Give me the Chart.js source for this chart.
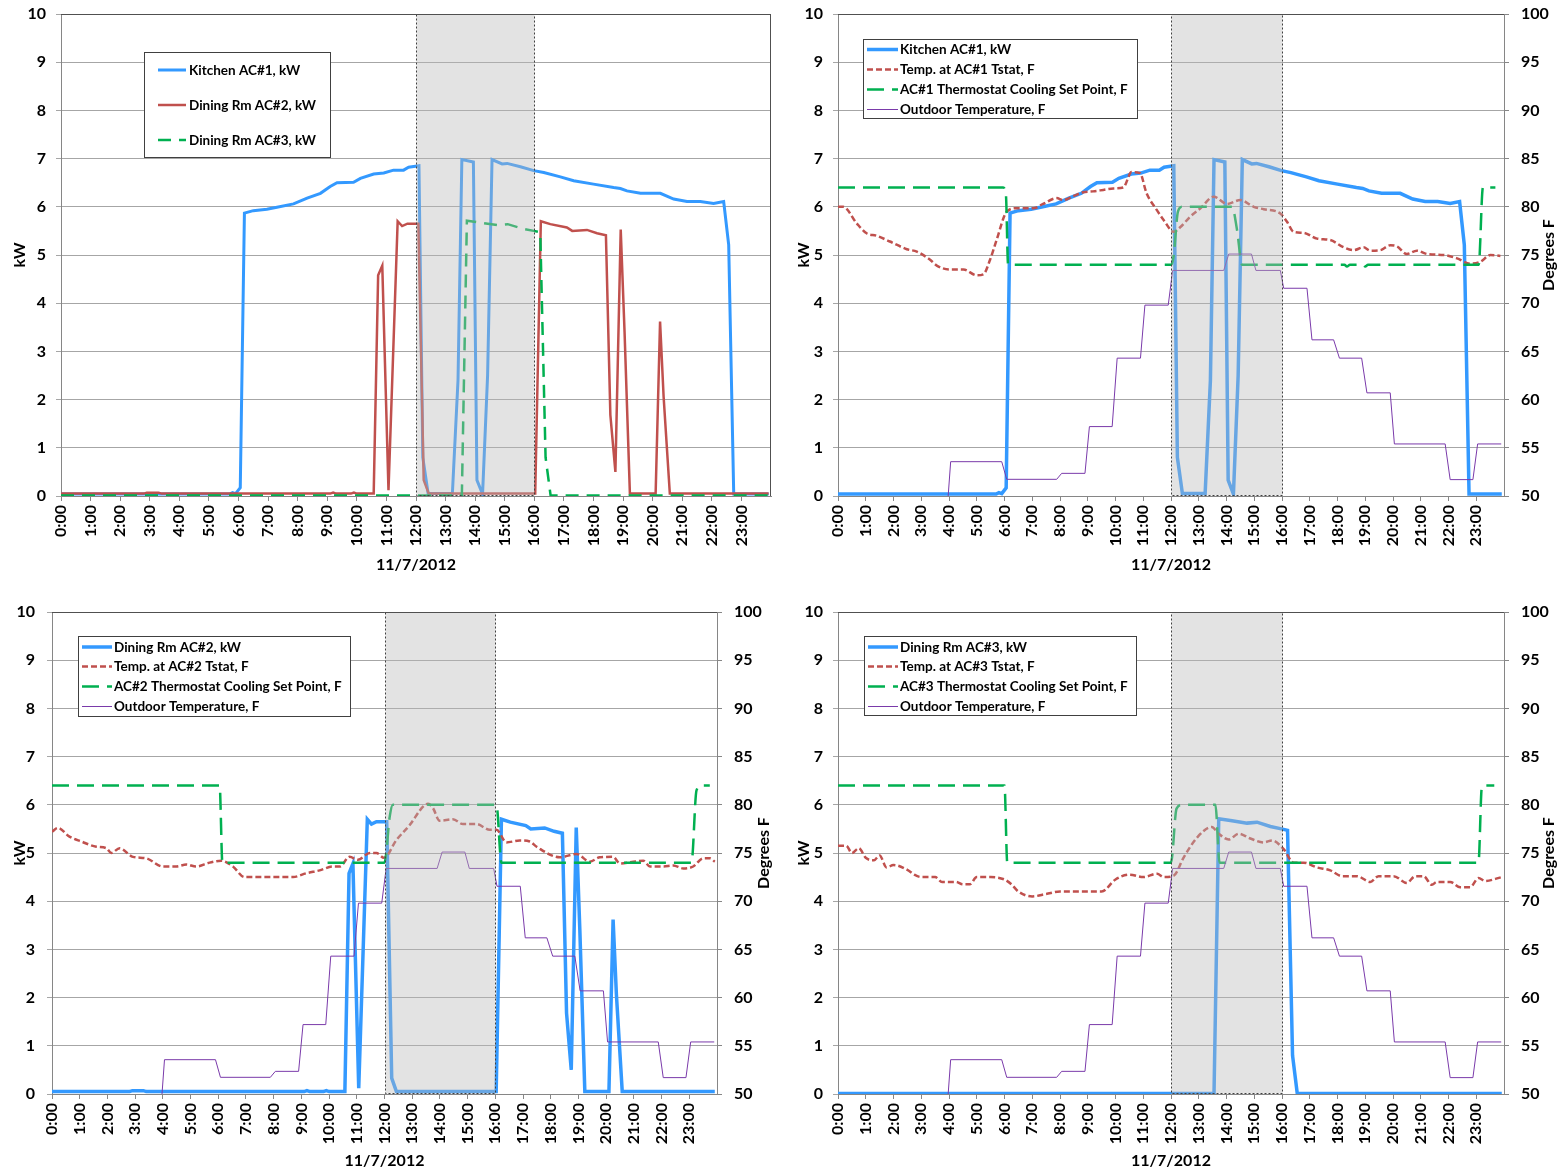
<!DOCTYPE html>
<html>
<head>
<meta charset="utf-8">
<script src="https://cdn.jsdelivr.net/npm/chart.js@4.4.0/dist/chart.umd.min.js"></script>
<style>
  body { margin: 0; background: #fff; }
  #page { position: relative; width: 1557px; height: 1174px; }
  #page canvas { position: absolute; }
</style>
</head>
<body>
<div id="page">
  <canvas id="chart-kw" width="778" height="590" style="left:0;top:0"></canvas>
  <canvas id="chart-ac1" width="779" height="590" style="left:778px;top:0"></canvas>
  <canvas id="chart-ac2" width="778" height="576" style="left:0;top:598px"></canvas>
  <canvas id="chart-ac3" width="779" height="576" style="left:778px;top:598px"></canvas>
</div>
<script>
// 11/7/2012 - AC demand (kW) and temperatures, hours of the day
const peakStart = 12;
const peakEnd = 16;

const kitchenHours = [0, 5.7, 5.8, 5.9, 6.06, 6.2, 6.5, 6.96, 7.3, 7.86, 8.32, 8.77, 9.1, 9.33, 9.89, 10.12, 10.57, 10.91, 11.24, 11.58, 11.75, 12.1, 12.23, 12.41, 13.23, 13.42, 13.55, 13.94, 14.06, 14.25, 14.42, 14.57, 14.91, 15.08, 15.53, 15.98, 16.32, 16.88, 17.33, 18.0, 18.68, 18.91, 19.13, 19.59, 20.26, 20.71, 21.16, 21.61, 22.06, 22.4, 22.57, 22.74, 23.92];
const kitchenKw = [0.04, 0.04, 0.07, 0.05, 0.17, 5.87, 5.92, 5.95, 5.99, 6.06, 6.18, 6.28, 6.42, 6.5, 6.51, 6.59, 6.68, 6.7, 6.76, 6.76, 6.82, 6.85, 0.8, 0.05, 0.05, 2.4, 6.98, 6.93, 0.33, 0.04, 2.5, 6.98, 6.89, 6.9, 6.83, 6.75, 6.71, 6.62, 6.54, 6.47, 6.4, 6.38, 6.33, 6.28, 6.28, 6.16, 6.11, 6.11, 6.07, 6.11, 5.21, 0.04, 0.04];

const ac2Hours = [0, 2.8, 2.9, 3.3, 3.4, 9.1, 9.2, 9.3, 9.8, 9.9, 10.0, 10.57, 10.72, 10.86, 11.07, 11.38, 11.53, 11.71, 12.08, 12.26, 12.43, 16.03, 16.22, 16.54, 17.1, 17.28, 17.78, 18.12, 18.42, 18.57, 18.74, 18.92, 19.05, 19.23, 20.1, 20.25, 20.37, 20.58, 23.92];
const ac2Kw = [0.05, 0.05, 0.07, 0.07, 0.05, 0.05, 0.07, 0.05, 0.05, 0.07, 0.05, 0.05, 4.58, 4.78, 0.12, 5.7, 5.6, 5.65, 5.65, 0.33, 0.05, 0.05, 5.7, 5.64, 5.57, 5.5, 5.52, 5.45, 5.41, 1.68, 0.5, 5.53, 3.4, 0.05, 0.05, 3.62, 2.06, 0.05, 0.05];

const ac3Hours = [0, 13.55, 13.72, 14.2, 14.74, 15.1, 15.58, 15.98, 16.2, 16.38, 16.55, 23.92];
const ac3Kw = [0.01, 0.01, 5.71, 5.67, 5.62, 5.64, 5.55, 5.5, 5.47, 0.8, 0.01, 0.01];

const tstat1Hours = [0, 0.19, 0.67, 1.03, 1.39, 1.87, 2.48, 2.84, 3.32, 3.56, 4.04, 4.52, 5.0, 5.24, 5.48, 5.72, 6.08, 6.44, 7.04, 7.39, 7.88, 8.11, 8.47, 8.83, 9.19, 9.56, 9.92, 10.28, 10.58, 10.88, 11.12, 11.48, 11.74, 12.1, 12.34, 12.7, 13.06, 13.54, 14.02, 14.5, 14.98, 15.34, 15.94, 16.18, 16.42, 16.78, 17.26, 17.74, 18.22, 18.58, 18.94, 19.18, 19.54, 19.9, 20.14, 20.5, 20.86, 21.23, 21.83, 22.31, 22.79, 23.15, 23.51, 23.87];
const tstat1F = [80, 80, 78.3, 77.25, 77.0, 76.4, 75.6, 75.35, 74.5, 73.9, 73.5, 73.5, 72.9, 73.0, 74.5, 76.6, 79.5, 79.85, 79.85, 80.3, 80.9, 80.7, 81.1, 81.5, 81.6, 81.75, 81.9, 82.0, 83.6, 83.5, 81.4, 79.7, 78.6, 77.4, 77.9, 79.0, 79.85, 81.05, 80.3, 80.7, 80.0, 79.75, 79.3, 78.45, 77.4, 77.3, 76.7, 76.55, 75.8, 75.5, 75.8, 75.45, 75.5, 76.0, 75.9, 75.1, 75.45, 75.1, 75.0, 74.65, 74.1, 74.3, 75.0, 74.9];

const tstat2Hours = [0, 0.21, 0.63, 1.05, 1.6, 1.96, 2.14, 2.44, 2.92, 3.4, 4.0, 4.49, 4.85, 5.2, 5.69, 6.11, 6.53, 6.95, 7.49, 8.7, 9.18, 9.66, 10.14, 10.38, 10.74, 11.04, 11.47, 11.71, 11.98, 12.43, 12.91, 13.39, 13.57, 13.75, 13.99, 14.47, 14.83, 15.32, 15.8, 16.04, 16.4, 16.88, 17.24, 17.49, 18.33, 18.93, 19.41, 19.77, 20.25, 20.5, 20.98, 21.34, 21.58, 22.06, 22.42, 22.78, 23.14, 23.5, 23.74, 23.92];
const tstat2F = [77.2, 77.6, 76.7, 76.2, 75.65, 75.5, 75.0, 75.5, 74.6, 74.45, 73.6, 73.6, 73.8, 73.6, 74.0, 74.2, 73.6, 72.5, 72.5, 72.5, 72.9, 73.2, 73.6, 73.6, 74.6, 74.3, 75.0, 75.0, 74.5, 76.35, 77.9, 79.8, 80.1, 79.65, 78.35, 78.5, 78.0, 78.0, 77.4, 77.4, 76.1, 76.3, 76.2, 75.65, 74.55, 74.9, 74.1, 74.55, 74.6, 73.9, 74.1, 74.2, 73.6, 73.6, 73.7, 73.4, 73.6, 74.45, 74.45, 74.1];

const tstat3Hours = [0, 0.3, 0.5, 0.75, 1.0, 1.3, 1.5, 1.75, 2.0, 2.5, 2.75, 3.0, 3.5, 3.75, 4.25, 4.5, 4.75, 5.0, 5.5, 6.0, 6.25, 6.5, 7.0, 7.5, 8.0, 9.5, 10.0, 10.5, 11.0, 11.5, 11.74, 12.1, 12.46, 12.94, 13.47, 13.72, 14.08, 14.44, 14.86, 15.34, 15.64, 16.06, 16.42, 16.78, 17.26, 17.74, 18.16, 18.7, 19.18, 19.48, 20.02, 20.5, 20.8, 21.1, 21.4, 21.58, 22.06, 22.42, 22.78, 23.08, 23.32, 23.92];
const tstat3F = [75.75, 75.75, 75.0, 75.5, 74.5, 74.25, 74.75, 73.5, 73.75, 73.25, 72.75, 72.5, 72.5, 72.0, 72.0, 71.75, 71.75, 72.5, 72.5, 72.25, 71.75, 71.0, 70.5, 70.75, 71.0, 71.0, 72.25, 72.75, 72.5, 72.85, 72.5, 72.65, 74.55, 76.6, 77.7, 77.0, 76.4, 77.0, 76.5, 76.1, 76.3, 75.4, 74.0, 74.0, 73.5, 73.2, 72.6, 72.6, 72.0, 72.6, 72.6, 71.9, 72.6, 72.6, 71.7, 72.0, 72.0, 71.45, 71.45, 72.4, 72.1, 72.5];

const setpoint1Hours = [0, 5.95, 6.05, 6.13, 12.02, 12.1, 12.25, 12.4, 14.2, 14.38, 14.56, 18.25, 18.34, 18.45, 18.9, 19.0, 19.1, 23.09, 23.24, 23.69];
const setpoint1F = [82, 82, 81.3, 74, 74, 75, 79.5, 80, 80, 77.6, 74, 74, 73.8, 74, 74, 73.8, 74, 74, 82, 82];

const setpoint2Hours = [0, 6.05, 6.15, 12.0, 12.19, 12.3, 16.04, 16.22, 23.08, 23.26, 23.44, 23.74];
const setpoint2F = [82, 82, 74, 74, 78.8, 80, 80, 74, 74, 81.5, 82, 82];

const setpoint3Hours = [0, 6.0, 6.1, 12.0, 12.2, 12.4, 13.6, 13.75, 23.08, 23.2, 23.3, 23.65];
const setpoint3F = [82, 82, 74, 74, 79.6, 80, 80, 74, 74, 81.8, 82, 82];

const outdoorHours = [3.97, 4.06, 5.9, 6.08, 7.88, 8.06, 8.9, 9.06, 9.88, 10.06, 10.9, 11.06, 11.9, 12.06, 13.9, 14.08, 14.9, 15.06, 15.94, 16.06, 16.9, 17.08, 17.86, 18.07, 18.87, 19.06, 19.9, 20.05, 21.88, 22.06, 22.88, 23.05, 23.9];
const outdoorF = [50, 53.56, 53.56, 51.73, 51.73, 52.35, 52.35, 57.2, 57.2, 64.3, 64.3, 69.8, 69.8, 73.4, 73.4, 75.1, 75.1, 73.4, 73.4, 71.55, 71.55, 66.2, 66.2, 64.3, 64.3, 60.7, 60.7, 55.4, 55.4, 51.7, 51.7, 55.4, 55.4];

const BLUE = "#3399ff";
const RED = "#c0504d";
const GREEN = "#00b050";
const PURPLE = "#7a3aaa";
const GRID = "#a6a6a6";
const AXIS = "#868686";
const FONT = "Lato, 'Open Sans', sans-serif";

Chart.defaults.font.family = FONT;
Chart.defaults.font.weight = "bold";
Chart.defaults.color = "#000";

const tickFont = { size: 16, weight: "bold" };
const titleFont = { size: 16, weight: "bold" };

function series(hours, values) {
  return hours.map((h, i) => ({ x: h, y: values[i] }));
}

// white boxed legend placed inside the plot
const boxLegend = {
  id: "boxLegend",
  afterDraw(chart, args, opts) {
    if (!opts.box) return;
    const ctx = chart.ctx;
    const [bx, by, bw, bh] = opts.box;
    ctx.save();
    ctx.fillStyle = "#fff";
    ctx.fillRect(bx, by, bw, bh);
    ctx.strokeStyle = "#404040";
    ctx.lineWidth = 1;
    ctx.strokeRect(Math.round(bx) + 0.5, Math.round(by) + 0.5, Math.round(bw), Math.round(bh));
    ctx.font = "bold 13.5px " + FONT;
    ctx.textBaseline = "middle";
    chart.data.datasets.forEach((ds, i) => {
      const y = opts.rows[i];
      ctx.beginPath();
      ctx.setLineDash(ds.borderDash || []);
      ctx.strokeStyle = ds.borderColor;
      ctx.lineWidth = ds.borderWidth;
      ctx.moveTo(opts.sample[0], y);
      ctx.lineTo(opts.sample[1], y);
      ctx.stroke();
      ctx.setLineDash([]);
      ctx.fillStyle = "#000";
      ctx.fillText(ds.label, opts.textX, y + 0.5);
    });
    ctx.restore();
  },
};

// grey on-peak window drawn over the lines, the plot frame and the
// right-hand "Degrees F" title (reads bottom to top like the kW one)
const peakShade = {
  id: "peakShade",
  afterDatasetsDraw(chart, args, opts) {
    const { ctx, chartArea: a, scales } = chart;
    const x0 = Math.round(scales.x.getPixelForValue(opts.from)) + 0.5;
    const x1 = Math.round(scales.x.getPixelForValue(opts.to)) + 0.5;
    const top = Math.round(a.top) + 0.5;
    const bottom = Math.round(a.bottom) - 0.5;
    ctx.save();
    ctx.fillStyle = "rgba(185,185,185,0.4)";
    ctx.fillRect(x0, top, x1 - x0, bottom - top);
    ctx.strokeStyle = "#404040";
    ctx.lineWidth = 1;
    ctx.setLineDash([2, 2]);
    ctx.strokeRect(x0, top, x1 - x0, bottom - top);
    ctx.setLineDash([]);
    ctx.strokeStyle = "#505050";
    ctx.beginPath();
    ctx.moveTo(a.left, top);
    ctx.lineTo(a.right, top);
    if (opts.frameRight) {
      const r = Math.round(a.right) - 0.5;
      ctx.moveTo(r, top);
      ctx.lineTo(r, Math.round(a.bottom));
    }
    ctx.stroke();
    if (opts.degTitleX) {
      ctx.translate(opts.degTitleX, (a.top + a.bottom) / 2);
      ctx.rotate(-Math.PI / 2);
      ctx.font = "bold 16px " + FONT;
      ctx.fillStyle = "#000";
      ctx.textAlign = "center";
      ctx.textBaseline = "middle";
      ctx.fillText("Degrees F", 0, 0);
    }
    ctx.restore();
  },
};

Chart.register(boxLegend, peakShade);

function hourAxis(height, titlePad) {
  return {
    type: "linear",
    min: 0,
    max: 24,
    afterBuildTicks: (scale) => {
      scale.ticks = scale.ticks.filter((t) => t.value < 24);
    },
    afterFit: (scale) => {
      scale.height = height;
    },
    ticks: {
      stepSize: 1,
      autoSkip: false,
      minRotation: 90,
      maxRotation: 90,
      padding: 4,
      font: tickFont,
      color: "#000",
      callback: (v) => v + ":00",
    },
    grid: { drawOnChartArea: false, color: AXIS, tickLength: 5 },
    border: { color: AXIS },
    title: { display: true, text: "11/7/2012", font: titleFont, color: "#000", padding: { top: 0, bottom: titlePad } },
  };
}

function kwAxis(width, pad, titlePad) {
  return {
    type: "linear",
    position: "left",
    min: 0,
    max: 10,
    afterFit: (scale) => {
      scale.width = width;
      scale.paddingTop = 0;
      scale.paddingBottom = 0;
    },
    ticks: { stepSize: 1, padding: pad, font: tickFont, color: "#000" },
    grid: { color: GRID, tickLength: 5 },
    border: { color: AXIS },
    title: { display: true, text: "kW", font: titleFont, color: "#000", padding: { top: titlePad, bottom: 0 } },
  };
}

function degAxis(width) {
  return {
    type: "linear",
    position: "right",
    min: 50,
    max: 100,
    afterFit: (scale) => {
      scale.width = width;
      scale.paddingTop = 0;
      scale.paddingBottom = 0;
    },
    ticks: { stepSize: 5, padding: 12, font: tickFont, color: "#000" },
    grid: { drawOnChartArea: false, color: AXIS, tickLength: 5 },
    border: { color: AXIS },
  };
}

function baseOptions(padding, legend, shade) {
  return {
    responsive: false,
    animation: false,
    devicePixelRatio: 1,
    layout: { padding },
    elements: { point: { radius: 0 }, line: { tension: 0 } },
    plugins: {
      legend: { display: false },
      tooltip: { enabled: false },
      boxLegend: legend,
      peakShade: Object.assign({ from: peakStart, to: peakEnd }, shade),
    },
  };
}

function kwLine(label, hours, values, color, width, dash) {
  return {
    label,
    data: series(hours, values),
    borderColor: color,
    borderWidth: width,
    borderDash: dash || [],
    yAxisID: "y",
  };
}

function tempLines(tstatLabel, tstatHours, tstatF, spLabel, spHours, spF) {
  return [
    {
      label: tstatLabel,
      data: series(tstatHours, tstatF),
      borderColor: RED,
      borderWidth: 2.5,
      borderDash: [6, 3],
      cubicInterpolationMode: "monotone",
      yAxisID: "y2",
    },
    {
      label: spLabel,
      data: series(spHours, spF),
      borderColor: GREEN,
      borderWidth: 2.5,
      borderDash: [17, 8],
      cubicInterpolationMode: "monotone",
      yAxisID: "y2",
    },
    {
      label: "Outdoor Temperature, F",
      data: series(outdoorHours, outdoorF),
      borderColor: PURPLE,
      borderWidth: 1,
      yAxisID: "y2",
    },
  ];
}

// later series drawn on top
function stackOrder(datasets) {
  datasets.forEach((ds, i) => {
    ds.order = datasets.length - i;
  });
  return datasets;
}

// all three units, kW only
new Chart(document.getElementById("chart-kw"), {
  type: "line",
  data: {
    datasets: stackOrder([
      kwLine("Kitchen AC#1, kW", kitchenHours, kitchenKw, BLUE, 3),
      kwLine("Dining Rm AC#2, kW", ac2Hours, ac2Kw, RED, 2.5),
      kwLine("Dining Rm AC#3, kW", ac3Hours, ac3Kw, GREEN, 2.5, [13, 8]),
    ]),
  },
  options: Object.assign(
    baseOptions({ top: 14, right: 7, left: 0, bottom: 0 }, { box: [144, 52, 186, 105], rows: [70, 105, 140], sample: [158, 186], textX: 189 }, { frameRight: true }),
    { scales: { x: hourAxis(94, 16), y: kwAxis(61, 10, 10) } }
  ),
});

new Chart(document.getElementById("chart-ac1"), {
  type: "line",
  data: {
    datasets: stackOrder([
      kwLine("Kitchen AC#1, kW", kitchenHours, kitchenKw, BLUE, 3.5),
      ...tempLines("Temp. at AC#1 Tstat, F", tstat1Hours, tstat1F, "AC#1 Thermostat Cooling Set Point, F", setpoint1Hours, setpoint1F),
    ]),
  },
  options: Object.assign(
    baseOptions({ top: 14, right: 0, left: 0, bottom: 0 }, { box: [85, 39, 274, 79], rows: [49.5, 69.5, 89.5, 109.5], sample: [89, 120], textX: 122 }, { degTitleX: 771 }),
    { scales: { x: hourAxis(94, 16), y: kwAxis(60, 10, 16), y2: degAxis(53) } }
  ),
});

new Chart(document.getElementById("chart-ac2"), {
  type: "line",
  data: {
    datasets: stackOrder([
      kwLine("Dining Rm AC#2, kW", ac2Hours, ac2Kw, BLUE, 3.5),
      ...tempLines("Temp. at AC#2 Tstat, F", tstat2Hours, tstat2F, "AC#2 Thermostat Cooling Set Point, F", setpoint2Hours, setpoint2F),
    ]),
  },
  options: Object.assign(
    baseOptions({ top: 14, right: 0, left: 0, bottom: 0 }, { box: [78, 38, 272, 80], rows: [49, 68.5, 88.5, 108.5], sample: [82, 112], textX: 114 }, { degTitleX: 764 }),
    { scales: { x: hourAxis(80, 4), y: kwAxis(52, 12, 10), y2: degAxis(61) } }
  ),
});

new Chart(document.getElementById("chart-ac3"), {
  type: "line",
  data: {
    datasets: stackOrder([
      kwLine("Dining Rm AC#3, kW", ac3Hours, ac3Kw, BLUE, 3.5),
      ...tempLines("Temp. at AC#3 Tstat, F", tstat3Hours, tstat3F, "AC#3 Thermostat Cooling Set Point, F", setpoint3Hours, setpoint3F),
    ]),
  },
  options: Object.assign(
    baseOptions({ top: 14, right: 0, left: 0, bottom: 0 }, { box: [86, 38, 272, 79], rows: [49, 68.5, 88.5, 108.5], sample: [90, 120], textX: 122 }, { degTitleX: 771 }),
    { scales: { x: hourAxis(80, 4), y: kwAxis(60, 10, 16), y2: degAxis(53) } }
  ),
});
</script>
</body>
</html>
